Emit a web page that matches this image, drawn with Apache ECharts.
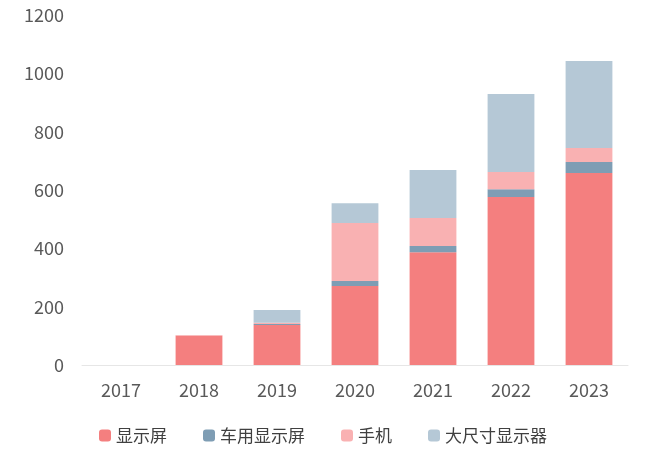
<!DOCTYPE html>
<html>
<head>
<meta charset="utf-8">
<script src="https://cdn.jsdelivr.net/npm/echarts@6/dist/echarts.min.js"></script>
<style>html,body{margin:0;padding:0;background:#fff}#chart{width:646px;height:457px}</style>
</head>
<body>
<div id="chart"></div>
<script>
// 数据
const years = ['2017', '2018', '2019', '2020', '2021', '2022', '2023']
const display = [0, 100, 137, 271, 387, 576, 658]
const carDisplay = [0, 0, 4, 17, 21, 27, 38]
const phone = [0, 3, 4, 199, 96, 59, 48]
const largeDisplay = [0, 0, 44, 68, 165, 267, 298]
const yTicks = [0, 200, 400, 600, 800, 1000, 1200]

var myChart = echarts.init(document.getElementById('chart'))
const mk = (name, data, color) => ({
    name: name, type: 'bar', stack: 'total', data: data,
    barWidth: '60%', itemStyle: { color: color }
})
let option = {
    textStyle: { fontFamily: 'Noto Sans CJK SC' },
    grid: { left: 82, right: 18, top: 15, bottom: 92 },
    legend: {
        bottom: 8, left: 'center', itemWidth: 12, itemHeight: 12, itemGap: 36,
        textStyle: { color: '#404040', fontSize: 17 }
    },
    xAxis: {
        type: 'category', data: years,
        axisTick: { show: false },
        axisLine: { lineStyle: { color: '#e6e6e6' } },
        axisLabel: { color: '#595959', fontSize: 18, margin: 16 }
    },
    yAxis: {
        type: 'value', min: 0, max: yTicks[yTicks.length - 1], interval: 200,
        splitLine: { show: false },
        axisLine: { show: false },
        axisLabel: { color: '#595959', fontSize: 18, margin: 18, formatter: v => String(v) }
    },
    series: [
        mk('显示屏', display, '#f47f7f'),
        mk('车用显示屏', carDisplay, '#7e9db4'),
        mk('手机', phone, '#f9b1b2'),
        mk('大尺寸显示器', largeDisplay, '#b5c8d6')
    ]
}
myChart.setOption(option)
</script>
</body>
</html>
